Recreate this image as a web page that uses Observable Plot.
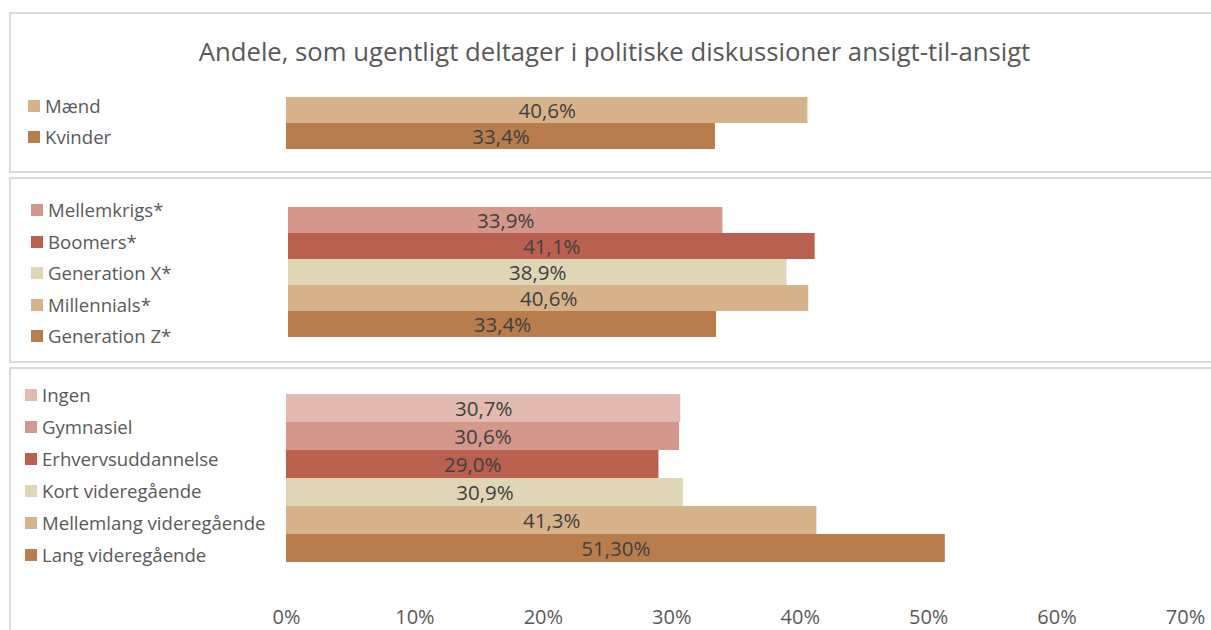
<!DOCTYPE html>
<html><head><meta charset="utf-8">
<script src="https://cdn.jsdelivr.net/npm/d3@7"></script>
<script src="https://cdn.jsdelivr.net/npm/@observablehq/plot@0.6"></script>
<style>
body{margin:0;background:#fff;font-family:"Open Sans",sans-serif;}
#wrap{position:relative;width:1211px;height:630px;overflow:hidden;background:#fff;}
.panel{position:absolute;border:2px solid #d9d9d9;box-sizing:border-box;}
.title{position:absolute;left:0;width:1229px;text-align:center;color:#595959;font-size:25.7px;line-height:30px;white-space:nowrap;}
.item{position:absolute;display:flex;align-items:center;color:#595959;font-size:18.6px;line-height:22px;white-space:nowrap;}
.sw{width:12px;height:12px;margin-right:5px;flex:none;}
.plotbox{position:absolute;left:0;}
.plotbox svg{background:transparent !important;display:block;}
</style>
</head><body>
<div id="wrap"></div>
<script>
// ---- data ----
const titleText = "Andele, som ugentligt deltager i politiske diskussioner ansigt-til-ansigt";

const genderCats   = ["Mænd", "Kvinder"];
const genderValues = [40.6, 33.4];
const genderLabels = ["40,6%", "33,4%"];
const genderColors = ["#d7b38b", "#b97d4d"];

const generationCats   = ["Mellemkrigs*", "Boomers*", "Generation X*", "Millennials*", "Generation Z*"];
const generationValues = [33.9, 41.1, 38.9, 40.6, 33.4];
const generationLabels = ["33,9%", "41,1%", "38,9%", "40,6%", "33,4%"];
const generationColors = ["#d4978c", "#b9604e", "#dfd6b6", "#d7b38b", "#b97d4d"];

const educationCats   = ["Ingen", "Gymnasiel", "Erhvervsuddannelse", "Kort videregående", "Mellemlang videregående", "Lang videregående"];
const educationValues = [30.7, 30.6, 29.0, 30.9, 41.3, 51.3];
const educationLabels = ["30,7%", "30,6%", "29,0%", "30,9%", "41,3%", "51,30%"];
const educationColors = ["#e2bab2", "#d4978c", "#b9604e", "#dfd6b6", "#d7b38b", "#b97d4d"];

const xTicks = [0, 10, 20, 30, 40, 50, 60, 70];
const xTickLabels = ["0%", "10%", "20%", "30%", "40%", "50%", "60%", "70%"];

// ---- layout ----
const wrap = document.getElementById("wrap");
function div(cls, style, html) {
  const d = document.createElement("div");
  d.className = cls; Object.assign(d.style, style);
  if (html != null) d.textContent = html;
  wrap.appendChild(d); return d;
}
div("panel", {left: "9px", top: "12px", width: "1220px", height: "161px"});
div("panel", {left: "9px", top: "177px", width: "1220px", height: "186px"});
div("panel", {left: "9px", top: "367px", width: "1220px", height: "300px"});
div("title", {top: "37px"}, titleText);

function legend(cats, colors, left, firstCenter, step) {
  cats.forEach((c, i) => {
    const it = div("item", {left: left + "px", top: (firstCenter + i * step - 11) + "px"});
    const sw = document.createElement("span"); sw.className = "sw"; sw.style.background = colors[i];
    const tx = document.createElement("span"); tx.textContent = c;
    it.appendChild(sw); it.appendChild(tx);
  });
}
legend(genderCats, genderColors, 28, 106, 31);
legend(generationCats, generationColors, 31, 210, 31.5);
legend(educationCats, educationColors, 25, 395, 32);

function barsPanel(cats, values, labels, colors, {top, height, marginLeft, plotH}) {
  const data = cats.map((c, i) => ({cat: c, v: values[i], label: labels[i], color: colors[i]}));
  const marks = [
    Plot.barX(data, {x: "v", y: "cat", fill: "color", insetTop: 0, insetBottom: 0}),
    Plot.text(data, {x: d => d.v / 2, y: "cat", text: "label", fill: "#404040", fontSize: 20.5, dy: 1})
  ];
  if (plotH) marks.push(Plot.axisX({ticks: xTicks, tickFormat: (d) => xTickLabels[xTicks.indexOf(d)], tickSize: 0, tickPadding: 47, fontSize: 20, fill: "#595959", anchor: "bottom", label: null}));
  const chart = Plot.plot({
    width: 1211, height,
    marginLeft, marginRight: 26, marginTop: 0, marginBottom: plotH ? height - plotH : 0,
    style: {fontFamily: "Open Sans, sans-serif", background: "transparent", overflow: "visible"},
    x: {domain: [0, 70], axis: null, label: null},
    y: {domain: cats, padding: 0, axis: null},
    color: {type: "identity"},
    marks
  });
  const box = div("plotbox", {top: top + "px"});
  box.appendChild(chart);
}
barsPanel(genderCats, genderValues, genderLabels, genderColors, {top: 97, height: 52, marginLeft: 286});
barsPanel(generationCats, generationValues, generationLabels, generationColors, {top: 205, height: 133, marginLeft: 288});
barsPanel(educationCats, educationValues, educationLabels, educationColors, {top: 393, height: 237, marginLeft: 286, plotH: 169});
</script>
</body></html>
